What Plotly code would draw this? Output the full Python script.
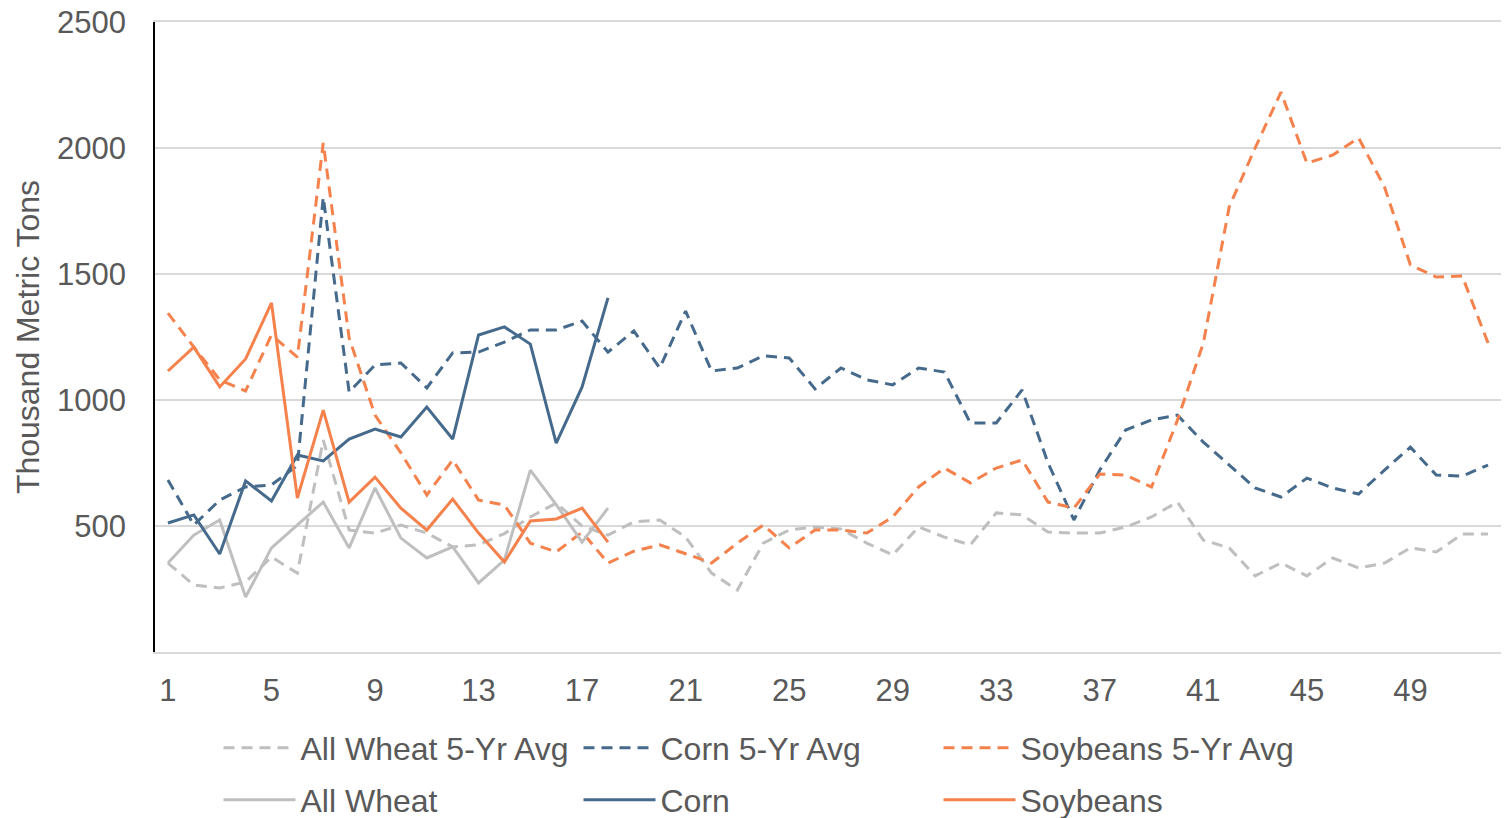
import plotly.graph_objects as go

weeks = list(range(1, 53))
weeks_cur = list(range(1, 19))

wheat_avg = [353, 266, 254, 278, 377, 313, 841, 484, 472, 504, 472, 417, 425, 470, 536, 591, 500, 464,
             516, 524, 456, 313, 246, 432, 484, 496, 488, 432, 385, 496, 456, 425, 552, 544, 476, 472,
             472, 496, 536, 595, 444, 413, 302, 353, 302, 373, 333, 353, 413, 397, 468, 468]
corn_avg = [683, 504, 603, 655, 663, 740, 1805, 1032, 1139, 1147, 1048, 1187, 1190, 1230, 1278, 1278, 1313, 1190,
            1274, 1127, 1353, 1115, 1127, 1175, 1167, 1044, 1127, 1080, 1060, 1127, 1111, 909, 909, 1040, 750, 524,
            722, 881, 921, 940, 833, 742, 651, 615, 690, 651, 627, 722, 813, 702, 698, 742]
soy_avg = [1345, 1210, 1080, 1036, 1258, 1170, 2020, 1246, 940, 790, 623, 762, 603, 583, 432, 397, 476, 353,
           400, 425, 390, 353, 432, 504, 413, 484, 484, 472, 536, 655, 730, 671, 730, 762, 595, 571,
           706, 702, 655, 920, 1226, 1766, 2000, 2222, 1940, 1972, 2040, 1845, 1536, 1488, 1492, 1226]

wheat = [353, 464, 524, 218, 413, 504, 595, 413, 651, 452, 373, 417, 274, 365, 722, 585, 436, 571]
corn = [512, 544, 389, 679, 599, 782, 758, 845, 885, 853, 972, 845, 1258, 1290, 1222, 829, 1052, 1405]
soy = [1115, 1210, 1052, 1163, 1385, 611, 960, 595, 694, 571, 484, 607, 472, 357, 520, 528, 571, 436]

y_ticks = [500, 1000, 1500, 2000, 2500]
x_ticks = list(range(1, 53, 4))

C_WHEAT = "#BFBFBF"
C_CORN = "#466A8C"
C_SOY = "#F5814C"
C_TEXT = "#595959"
C_GRID = "#D9D9D9"
DASH = "11px,7px"
FONT = "Liberation Sans, Arial, sans-serif"

fig = go.Figure()
series = [
    ("All Wheat 5-Yr Avg", weeks, wheat_avg, C_WHEAT, DASH, "legend"),
    ("Corn 5-Yr Avg", weeks, corn_avg, C_CORN, DASH, "legend"),
    ("Soybeans 5-Yr Avg", weeks, soy_avg, C_SOY, DASH, "legend"),
    ("All Wheat", weeks_cur, wheat, C_WHEAT, "solid", "legend2"),
    ("Corn", weeks_cur, corn, C_CORN, "solid", "legend2"),
    ("Soybeans", weeks_cur, soy, C_SOY, "solid", "legend2"),
]
for name, xs, ys, col, dash, lg in series:
    fig.add_trace(go.Scatter(x=xs, y=ys, name=name, mode="lines", legend=lg,
                             line=dict(color=col, width=3, dash=dash)))

leg_common = dict(orientation="h", xref="container", yref="container", x=0.1395,
                  xanchor="left", yanchor="middle", entrywidth=273, entrywidthmode="pixels",
                  font=dict(family=FONT, size=32, color=C_TEXT), itemwidth=72,
                  bgcolor="rgba(0,0,0,0)")

fig.update_layout(
    width=1509, height=818,
    margin=dict(l=147, r=16, t=14, b=174),
    plot_bgcolor="white", paper_bgcolor="white",
    font=dict(family=FONT, color=C_TEXT, size=31),
    xaxis=dict(range=[0.5, 52.5], tickvals=x_ticks, ticktext=[str(v) for v in x_ticks],
               showgrid=False, zeroline=False, showline=True, linecolor=C_GRID, linewidth=1.5,
               mirror=True, ticks="", automargin=False,
               ticklabelstandoff=10, ticklabeloverflow="allow",
               tickfont=dict(family=FONT, size=31, color=C_TEXT)),
    yaxis=dict(range=[0, 2500], tickvals=y_ticks, ticktext=[str(v) for v in y_ticks],
               showgrid=True, gridcolor=C_GRID, gridwidth=1.5, zeroline=False,
               showline=True, linecolor="#000000", linewidth=1.5, ticks="", automargin=False,
               ticklabelstandoff=21, ticklabeloverflow="allow",
               tickfont=dict(family=FONT, size=31, color=C_TEXT),
               title=dict(text="Thousand Metric Tons", font=dict(family=FONT, size=32, color=C_TEXT),
                          standoff=8)),
    legend=dict(**leg_common, y=1 - 740 / 818),
    legend2=dict(**leg_common, y=1 - 792 / 818),
    showlegend=True,
)

fig.write_html("out.html")
